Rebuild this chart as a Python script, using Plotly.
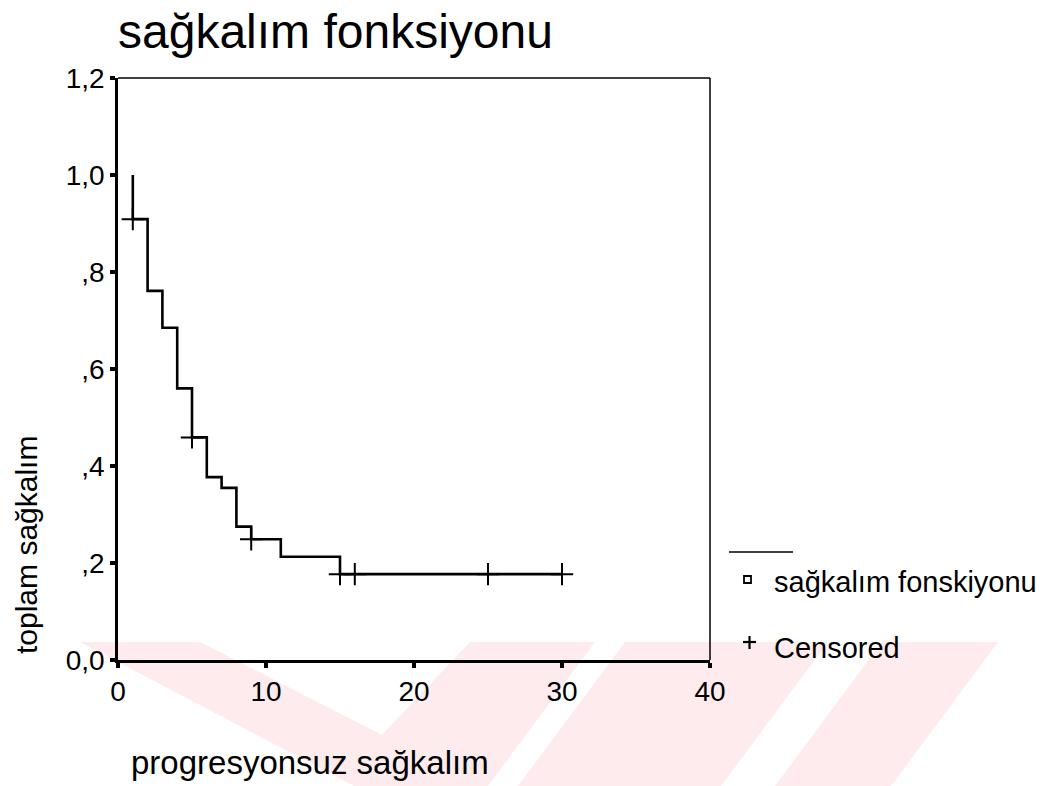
import plotly.graph_objects as go

# ---- data ----
times = [1, 1, 2, 3, 4, 5, 6, 7, 8, 9, 11, 15, 30]
survival = [1.0, 0.909, 0.761, 0.685, 0.560, 0.459, 0.377, 0.355, 0.275, 0.249, 0.213, 0.177, 0.177]
censor_times = [1, 5, 9, 15, 16, 25, 30]
censor_surv = [0.909, 0.459, 0.249, 0.177, 0.177, 0.177, 0.177]
x_tickvals = [0, 10, 20, 30, 40]
x_ticktext = ["0", "10", "20", "30", "40"]
y_tickvals = [0.0, 0.2, 0.4, 0.6, 0.8, 1.0, 1.2]
y_ticktext = ["0,0", ",2", ",4", ",6", ",8", "1,0", "1,2"]

title_text = "sağkalım fonksiyonu"
x_title = "progresyonsuz sağkalım"
y_title = "toplam sağkalım"
legend_labels = ["sağkalım fonskiyonu", "Censored"]

# ---- layout geometry (pixels) ----
W, H = 1045, 786
L, R, T, B = 118, 710, 78, 660
FONT = "Liberation Sans, Arial, Helvetica, sans-serif"


def px(x):
    return (x - L) / (R - L)


def py(y):
    return (B - y) / (B - T)


fig = go.Figure()
fig.add_trace(go.Scatter(
    x=times, y=survival, mode="lines", line=dict(shape="hv", color="black", width=2.6),
    showlegend=False, hoverinfo="skip"))
fig.add_trace(go.Scatter(
    x=censor_times, y=censor_surv, mode="markers",
    marker=dict(symbol="cross-thin", size=16, line=dict(color="black", width=2)),
    showlegend=False, hoverinfo="skip"))

shapes = []
# watermark (faint pink stripes)
pink = "#fdebee"


def poly(points):
    return "M " + " L ".join(f"{px(a):.5f},{py(b):.5f}" for a, b in points) + " Z"

vpath = poly([(80, 642), (595, 642), (488, 786), (354, 786)]) + " " + \
    poly([(200, 642), (470, 642), (382, 735)])
shapes.append(dict(type="path", xref="paper", yref="paper", path=vpath, fillcolor=pink,
                   fillrule="evenodd", line=dict(width=0), layer="below"))
shapes.append(dict(type="path", xref="paper", yref="paper",
                   path=poly([(625, 642), (828, 642), (721, 786), (518, 786)]),
                   fillcolor=pink, line=dict(width=0), layer="below"))
shapes.append(dict(type="path", xref="paper", yref="paper",
                   path=poly([(882, 642), (998, 642), (891, 786), (775, 786)]),
                   fillcolor=pink, line=dict(width=0), layer="below"))

# top and right border (thinner than left/bottom axes)
shapes.append(dict(type="line", xref="paper", yref="paper", x0=0, x1=1, y0=1, y1=1,
                   line=dict(color="black", width=1.5)))
shapes.append(dict(type="line", xref="paper", yref="paper", x0=1, x1=1, y0=0, y1=1,
                   line=dict(color="black", width=1.5)))

# legend marks
shapes.append(dict(type="line", xref="paper", yref="paper", x0=px(729), x1=px(793),
                   y0=py(552), y1=py(552), line=dict(color="black", width=1.5)))
shapes.append(dict(type="rect", xref="paper", yref="paper", x0=px(744), x1=px(751),
                   y0=py(583), y1=py(576), line=dict(color="black", width=1.8)))
shapes.append(dict(type="line", xref="paper", yref="paper", x0=px(743), x1=px(756),
                   y0=py(642), y1=py(642), line=dict(color="black", width=2.2)))
shapes.append(dict(type="line", xref="paper", yref="paper", x0=px(749.5), x1=px(749.5),
                   y0=py(636), y1=py(649), line=dict(color="black", width=2.2)))

annotations = [
    dict(text=title_text, x=px(116), y=py(31), xref="paper", yref="paper",
         xanchor="left", yanchor="middle", showarrow=False,
         font=dict(family=FONT, size=48, color="black")),
    dict(text=x_title, x=px(129), y=py(762), xref="paper", yref="paper",
         xanchor="left", yanchor="middle", showarrow=False,
         font=dict(family=FONT, size=33, color="black")),
    dict(text=y_title, x=px(26), y=py(545), xref="paper", yref="paper",
         xanchor="center", yanchor="middle", textangle=-90, showarrow=False,
         font=dict(family=FONT, size=30, color="black")),
    dict(text=legend_labels[0], x=px(772), y=py(582), xref="paper", yref="paper",
         xanchor="left", yanchor="middle", showarrow=False,
         font=dict(family=FONT, size=29, color="black")),
    dict(text=legend_labels[1], x=px(772), y=py(648), xref="paper", yref="paper",
         xanchor="left", yanchor="middle", showarrow=False,
         font=dict(family=FONT, size=29, color="black")),
]

fig.update_layout(
    width=W, height=H,
    margin=dict(l=L, r=W - R, t=T, b=H - B, pad=0),
    paper_bgcolor="white", plot_bgcolor="rgba(0,0,0,0)",
    showlegend=False,
    shapes=shapes, annotations=annotations,
    xaxis=dict(range=[0, 40], tickvals=x_tickvals, ticktext=x_ticktext,
               showgrid=False, zeroline=False, showline=True, linecolor="black", linewidth=2.5,
               ticks="outside", ticklen=5, tickwidth=4, tickcolor="black",
               tickfont=dict(family=FONT, size=28, color="black"), fixedrange=True),
    yaxis=dict(range=[0, 1.2], tickvals=y_tickvals, ticktext=y_ticktext,
               showgrid=False, zeroline=False, showline=True, linecolor="black", linewidth=2.5,
               ticks="outside", ticklen=5, tickwidth=4, tickcolor="black",
               tickfont=dict(family=FONT, size=28, color="black"), fixedrange=True),
)

fig.write_html("out.html")
